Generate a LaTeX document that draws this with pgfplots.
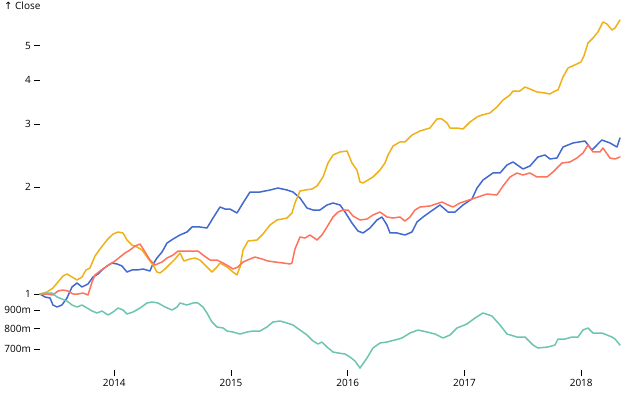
\documentclass[border=0pt]{standalone}
\usepackage{fontspec}
\setmainfont{Open Sans}
\newfontfamily\dejavu{DejaVu Sans}
\usepackage{pgfplots}
\pgfplotsset{compat=1.18}
\definecolor{cBlue}{HTML}{4269D0}
\definecolor{cYellow}{HTML}{EFB118}
\definecolor{cRed}{HTML}{FF725C}
\definecolor{cTeal}{HTML}{6CC5B0}
\begin{document}
\begin{tikzpicture}
\path[use as bounding box] (0,0) rectangle (640pt,400pt);
\node[anchor=base west, inner sep=0pt, font=\fontsize{10pt}{12pt}\selectfont] at (4pt,390pt) {{\dejavu ↑} Close};
\begin{axis}[
  at={(40pt,30pt)}, anchor=south west,
  scale only axis, width=580pt, height=350pt,
  ymode=log,
  xmin=2013.364, xmax=2018.332,
  ymin=0.6113, ymax=5.898,
  clip=false,
  axis x line*=bottom, axis y line*=left,
  axis line style={draw=none},
  tick align=outside,
  major tick length=6pt,
  tick style={black, line width=0.8pt},
  minor tick num=0,
  xtick={2014,2015,2016,2017,2018},
  xticklabels={2014,2015,2016,2017,2018},
  ytick={0.7,0.8,0.9,1,2,3,4,5},
  yticklabels={700m,800m,900m,1,2,3,4,5},
  minor ytick={},
  log basis y=10,
  ticklabel style={font=\fontsize{10pt}{12pt}\selectfont, black},
  xticklabel style={inner sep=0pt, yshift=-3pt},
  yticklabel style={inner sep=0pt, xshift=-3pt},
  every axis plot/.append style={line width=1.5pt, line join=round, line cap=round, mark=none},
]
% AAPL
\addplot[cBlue] coordinates {
(2013.364,1.000) (2013.407,0.9807) (2013.450,0.9744) (2013.475,0.9312) (2013.510,0.9192)
(2013.552,0.9312) (2013.595,0.9744) (2013.638,1.0464) (2013.681,1.0739) (2013.724,1.0464)
(2013.775,1.0669) (2013.818,1.1164) (2013.861,1.1383) (2013.895,1.1682) (2013.938,1.1989)
(2013.981,1.2224) (2014.024,1.2145) (2014.066,1.1989) (2014.109,1.1531) (2014.152,1.1682)
(2014.195,1.1682) (2014.247,1.1758) (2014.306,1.1606) (2014.323,1.1989) (2014.366,1.2625)
(2014.409,1.3126) (2014.452,1.3914) (2014.504,1.4279) (2014.563,1.4654) (2014.623,1.4942)
(2014.666,1.5433) (2014.734,1.5433) (2014.794,1.5333) (2014.846,1.6359) (2014.906,1.7568)
(2014.949,1.7342) (2014.991,1.7342) (2015.051,1.6898) (2015.103,1.8029) (2015.163,1.9361)
(2015.248,1.9361) (2015.334,1.9612) (2015.403,1.9867) (2015.480,1.9612) (2015.531,1.9361)
(2015.591,1.8622) (2015.651,1.7454) (2015.703,1.7230) (2015.762,1.7230) (2015.822,1.7797)
(2015.874,1.8029) (2015.934,1.7797) (2015.977,1.7008) (2016.036,1.5838) (2016.088,1.5038)
(2016.131,1.4845) (2016.190,1.5333) (2016.250,1.6149) (2016.293,1.6466) (2016.336,1.5634)
(2016.362,1.4845) (2016.422,1.4845) (2016.490,1.4654) (2016.550,1.4942) (2016.593,1.5941)
(2016.645,1.6466) (2016.704,1.7008) (2016.790,1.7797) (2016.859,1.7008) (2016.919,1.7008)
(2016.987,1.7797) (2017.064,1.8502) (2017.107,1.9867) (2017.159,2.0925) (2017.244,2.1896)
(2017.304,2.1896) (2017.364,2.3060) (2017.416,2.3513) (2017.501,2.2470) (2017.561,2.2912)
(2017.629,2.4286) (2017.689,2.4603) (2017.732,2.3974) (2017.792,2.4129) (2017.844,2.5910)
(2017.929,2.6591) (2018.032,2.6937) (2018.092,2.5412) (2018.177,2.7113) (2018.246,2.6591)
(2018.306,2.5910) (2018.332,2.7466)
};
% AMZN
\addplot[cYellow] coordinates {
(2013.364,1.000) (2013.424,1.0130) (2013.475,1.0396) (2013.518,1.0809) (2013.561,1.1237)
(2013.595,1.1383) (2013.638,1.1164) (2013.681,1.0949) (2013.724,1.1164) (2013.758,1.1682)
(2013.792,1.1834) (2013.835,1.2791) (2013.878,1.3383) (2013.938,1.4187) (2013.990,1.4749)
(2014.033,1.4942) (2014.075,1.4845) (2014.109,1.4187) (2014.152,1.3734) (2014.195,1.3558)
(2014.238,1.3297) (2014.281,1.2707) (2014.332,1.2067) (2014.366,1.1531) (2014.392,1.1457)
(2014.435,1.1758) (2014.478,1.2145) (2014.521,1.2544) (2014.563,1.3041) (2014.597,1.2383)
(2014.649,1.2544) (2014.692,1.2625) (2014.734,1.2463) (2014.794,1.1911) (2014.837,1.1531)
(2014.880,1.1911) (2014.906,1.2224) (2014.966,1.1911) (2015.017,1.1531) (2015.051,1.1309)
(2015.077,1.1911) (2015.103,1.3297) (2015.146,1.4095) (2015.223,1.4187) (2015.274,1.4749)
(2015.334,1.5634) (2015.394,1.6149) (2015.480,1.6359) (2015.522,1.6898) (2015.548,1.8029)
(2015.591,1.9486) (2015.634,1.9612) (2015.694,1.9739) (2015.737,2.0128) (2015.788,2.1335)
(2015.831,2.3361) (2015.874,2.4603) (2015.934,2.5086) (2015.994,2.5248) (2016.036,2.3361)
(2016.079,2.2325) (2016.105,2.0655) (2016.131,2.0522) (2016.174,2.0925) (2016.216,2.1335)
(2016.276,2.2325) (2016.319,2.3361) (2016.345,2.4603) (2016.388,2.6080) (2016.447,2.6764)
(2016.490,2.6764) (2016.550,2.8005) (2016.619,2.8740) (2016.704,2.9303) (2016.764,3.1064)
(2016.807,3.1064) (2016.850,3.0269) (2016.876,2.9303) (2016.936,2.9303) (2016.987,2.9115)
(2017.047,3.0466) (2017.107,3.1468) (2017.150,3.1878) (2017.218,3.2295) (2017.278,3.3573)
(2017.330,3.5131) (2017.390,3.6287) (2017.416,3.7239) (2017.475,3.7239) (2017.518,3.8217)
(2017.561,3.7726) (2017.621,3.7000) (2017.689,3.6761) (2017.732,3.6522) (2017.775,3.7239)
(2017.801,3.7482) (2017.844,4.0774) (2017.887,4.3221) (2017.963,4.4356) (2017.998,4.4936)
(2018.023,4.6717) (2018.058,5.0820) (2018.101,5.2490) (2018.143,5.4573) (2018.186,5.8224)
(2018.220,5.7472) (2018.263,5.5283) (2018.289,5.6002) (2018.332,5.8982)
};
% GOOG
\addplot[cRed] coordinates {
(2013.364,1.000) (2013.424,1.000) (2013.475,0.9935) (2013.518,1.0196) (2013.561,1.0263)
(2013.604,1.0196) (2013.647,1.000) (2013.690,1.000) (2013.733,1.0065) (2013.775,0.9935)
(2013.810,1.0809) (2013.835,1.1309) (2013.878,1.1606) (2013.938,1.1989) (2014.007,1.2383)
(2014.049,1.2707) (2014.092,1.3041) (2014.135,1.3297) (2014.178,1.3647) (2014.221,1.3824)
(2014.264,1.3126) (2014.306,1.2463) (2014.349,1.2067) (2014.409,1.2303) (2014.452,1.2625)
(2014.504,1.2873) (2014.547,1.3211) (2014.606,1.3211) (2014.666,1.3211) (2014.717,1.3211)
(2014.760,1.2873) (2014.820,1.2463) (2014.880,1.2463) (2014.932,1.2224) (2014.991,1.1911)
(2015.017,1.1758) (2015.060,1.1911) (2015.103,1.2303) (2015.163,1.2544) (2015.206,1.2707)
(2015.265,1.2544) (2015.317,1.2383) (2015.377,1.2303) (2015.446,1.2224) (2015.505,1.2145)
(2015.522,1.2224) (2015.548,1.3383) (2015.591,1.4465) (2015.634,1.4371) (2015.677,1.4654)
(2015.737,1.4187) (2015.779,1.4654) (2015.822,1.5433) (2015.874,1.6466) (2015.917,1.7008)
(2015.960,1.7230) (2016.003,1.7230) (2016.045,1.6574) (2016.105,1.6149) (2016.165,1.6254)
(2016.216,1.6680) (2016.276,1.7008) (2016.336,1.6466) (2016.388,1.6359) (2016.447,1.6466)
(2016.490,1.6044) (2016.533,1.6466) (2016.576,1.7230) (2016.619,1.7568) (2016.704,1.7683)
(2016.807,1.8147) (2016.859,1.7797) (2016.902,1.7568) (2016.961,1.8029) (2017.064,1.8502)
(2017.193,1.9111) (2017.278,1.8988) (2017.330,2.0128) (2017.390,2.1335) (2017.450,2.1896)
(2017.501,2.1614) (2017.561,2.1896) (2017.621,2.1335) (2017.706,2.1335) (2017.758,2.2038)
(2017.835,2.3361) (2017.903,2.3513) (2017.963,2.4129) (2018.015,2.4924) (2018.058,2.6248)
(2018.101,2.5086) (2018.160,2.5086) (2018.186,2.5742) (2018.246,2.4129) (2018.289,2.3974)
(2018.332,2.4286)
};
% IBM
\addplot[cTeal] coordinates {
(2013.364,1.000) (2013.424,1.0065) (2013.467,1.0065) (2013.510,0.9807) (2013.552,0.9681)
(2013.595,0.9557) (2013.638,0.9312) (2013.681,0.9192) (2013.724,0.9312) (2013.767,0.9133)
(2013.810,0.8957) (2013.852,0.8842) (2013.895,0.8957) (2013.947,0.8728) (2013.990,0.8900)
(2014.033,0.9133) (2014.075,0.9016) (2014.109,0.8785) (2014.161,0.8900) (2014.221,0.9133)
(2014.281,0.9434) (2014.323,0.9495) (2014.375,0.9434) (2014.435,0.9192) (2014.495,0.9016)
(2014.538,0.9192) (2014.563,0.9434) (2014.623,0.9312) (2014.675,0.9434) (2014.717,0.9434)
(2014.760,0.9192) (2014.794,0.8842) (2014.837,0.8342) (2014.880,0.8076) (2014.932,0.8023)
(2014.966,0.7869) (2015.017,0.7819) (2015.077,0.7718) (2015.137,0.7819) (2015.189,0.7869)
(2015.248,0.7869) (2015.308,0.8076) (2015.360,0.8342) (2015.420,0.8396) (2015.480,0.8288)
(2015.531,0.8181) (2015.591,0.7920) (2015.651,0.7668) (2015.703,0.7376) (2015.745,0.7234)
(2015.779,0.7328) (2015.822,0.7095) (2015.874,0.6869) (2015.917,0.6824) (2015.977,0.6780)
(2016.019,0.6650) (2016.062,0.6479) (2016.105,0.6192) (2016.165,0.6607) (2016.216,0.7049)
(2016.276,0.7281) (2016.336,0.7328) (2016.405,0.7424) (2016.464,0.7520) (2016.533,0.7768)
(2016.602,0.7920) (2016.679,0.7819) (2016.747,0.7718) (2016.816,0.7520) (2016.876,0.7668)
(2016.936,0.8023) (2017.021,0.8234) (2017.090,0.8560) (2017.159,0.8842) (2017.235,0.8672)
(2017.304,0.8181) (2017.364,0.7718) (2017.450,0.7569) (2017.518,0.7569) (2017.587,0.7187)
(2017.629,0.7049) (2017.715,0.7095) (2017.775,0.7187) (2017.801,0.7472) (2017.861,0.7472)
(2017.920,0.7569) (2017.972,0.7569) (2018.015,0.7920) (2018.058,0.8023) (2018.101,0.7768)
(2018.177,0.7768) (2018.220,0.7668) (2018.263,0.7569) (2018.289,0.7472) (2018.332,0.7187)
};
\end{axis}
\end{tikzpicture}
\end{document}
